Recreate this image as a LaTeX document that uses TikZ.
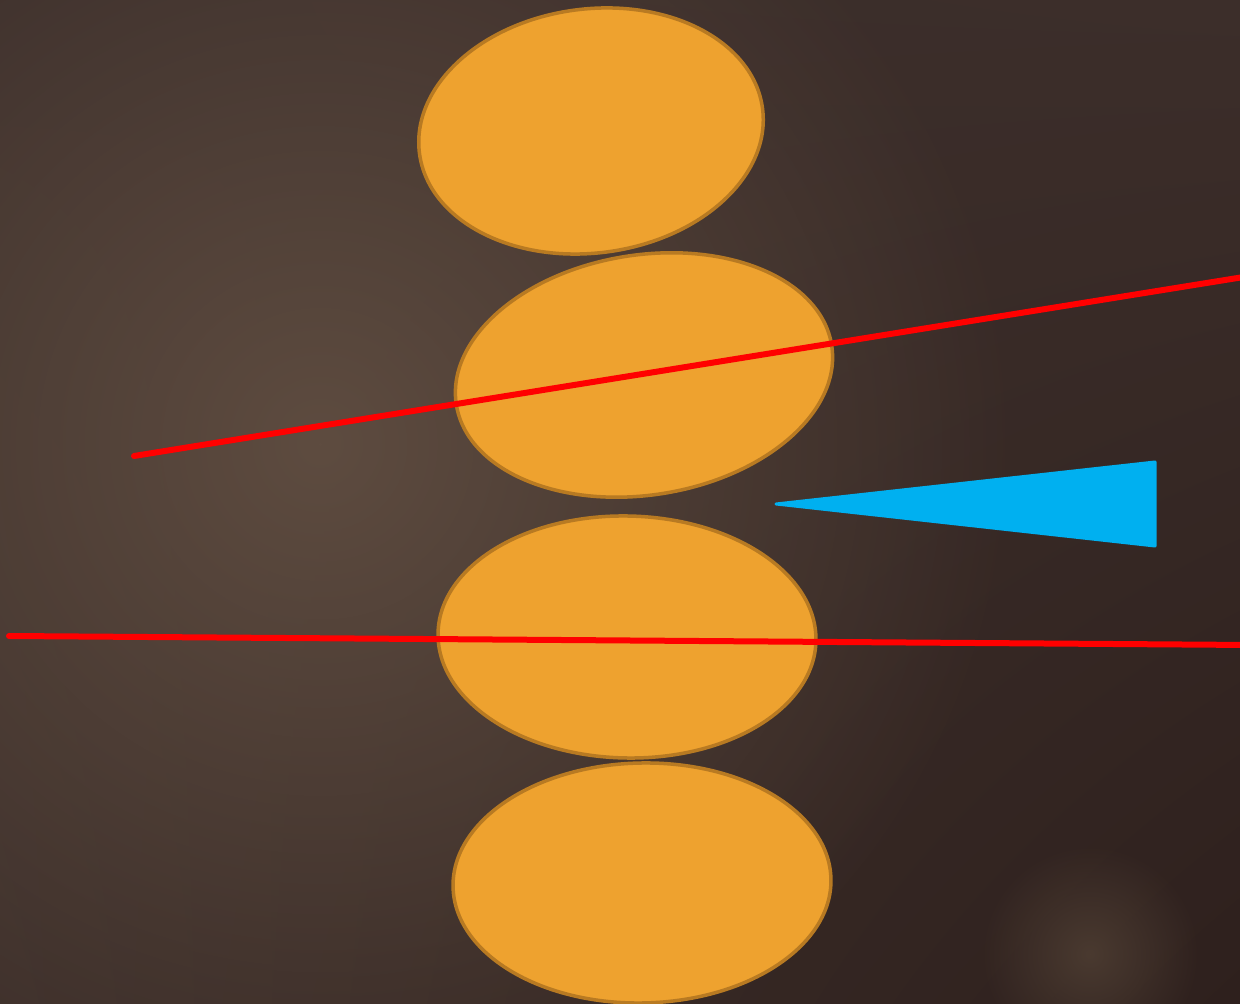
\documentclass[tikz,border=0pt]{standalone}
\usetikzlibrary{fadings,shadings}
\definecolor{bgA}{HTML}{3A2D2A}
\definecolor{bgB}{HTML}{3C2E2A}
\definecolor{bgC}{HTML}{3E302B}
\definecolor{bgD}{HTML}{2E201D}
\definecolor{glowc}{HTML}{5E4C40}
\definecolor{spotc}{HTML}{4A3A30}
\definecolor{orangefill}{HTML}{EEA22F}
\definecolor{orangeedge}{HTML}{B87A22}
\definecolor{redline}{HTML}{FF0000}
\definecolor{bluetri}{HTML}{00B0F0}
\tikzfading[name=glowfade, inner color=transparent!0, outer color=transparent!100]
\tikzset{
  egg/.style={fill=orangefill, draw=orangeedge, line width=3.5pt},
  cut/.style={draw=redline, line width=6pt, line cap=round},
  wedge/.style={fill=bluetri, draw=bluetri, line width=3pt, line join=round}
}
\begin{document}
\begin{tikzpicture}[x=1pt,y=1pt]
\useasboundingbox (0,0) rectangle (1240,1004);
\shade[upper left=bgA, upper right=bgB, lower left=bgC, lower right=bgD] (0,0) rectangle (1240,1004);
\begin{scope}
\clip (0,0) rectangle (1240,1004);
\fill[glowc, path fading=glowfade] (320,560) circle (700);
\fill[spotc, path fading=glowfade] (1090,50) circle (110);
% ellipses
\draw[egg, rotate around={7.5:(591,873)}] (591,873) ellipse (173 and 122);
\draw[egg, rotate around={9:(644,629)}] (644,629) ellipse (190 and 120);
\draw[egg, rotate around={-1.2:(627,367)}] (627,367) ellipse (189 and 121);
\draw[egg, rotate around={1.2:(642,121)}] (642,121) ellipse (189 and 120);
% red lines
\coordinate (r1a) at (134,548);
\coordinate (r1b) at (1250,728);
\coordinate (r2a) at (9,368);
\coordinate (r2b) at (1250,359);
\draw[cut] (r1a) -- (r1b);
\draw[cut] (r2a) -- (r2b);
% blue triangle
\coordinate (t1) at (776,500);
\coordinate (t2) at (1155,542);
\coordinate (t3) at (1155,458);
\filldraw[wedge] (t1) -- (t2) -- (t3) -- cycle;
\end{scope}
\end{tikzpicture}
\end{document}
